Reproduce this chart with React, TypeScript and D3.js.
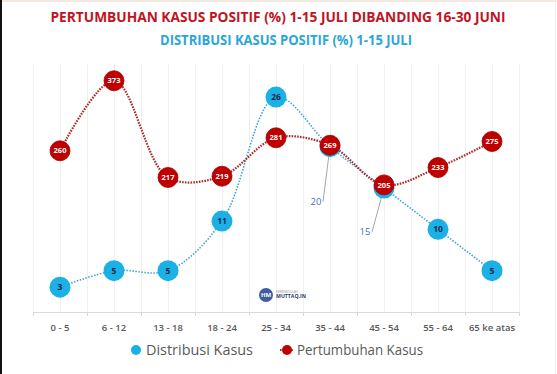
import React, { useEffect, useRef } from "react";
import * as d3 from "d3";

// data
const categories = ["0 - 5", "6 - 12", "13 - 18", "18 - 24", "25 - 34", "35 - 44", "45 - 54", "55 - 64", "65 ke atas"];
const distribusi = [3, 5, 5, 11, 26, 20, 15, 10, 5];
const pertumbuhan = [260, 373, 217, 219, 281, 269, 205, 233, 275];
// blue labels drawn outside with a leader line (index -> offset)
const outsideLabels: { [i: number]: [number, number] } = { 5: [-14, 58], 6: [-19, 47] };

const titleLine1 = "PERTUMBUHAN KASUS POSITIF (%) 1-15 JULI DIBANDING 16-30 JUNI";
const titleLine2 = "DISTRIBUSI KASUS POSITIF (%) 1-15 JULI";

const W = 557;
const H = 374;
const RED = "#c00000";
const BLUE = "#1bb0e6";
const FONT = "'Open Sans', 'Noto Sans', sans-serif";

function drawChart(el: SVGSVGElement) {
  const svg = d3.select(el);
  svg.selectAll("*").remove();

  const left = 33, right = 519, top = 64, bottom = 312;

  const x = d3.scaleBand<string>().domain(categories).range([left, right]);
  const bw = x.bandwidth();
  const cx = (i: number) => (x(categories[i]) as number) + bw / 2;
  const yBlue = d3.scaleLinear().domain([0, 30]).range([bottom, top]);
  const yRed = d3.scaleLinear().domain([0, 400]).range([bottom, top]);

  // frame
  svg.append("rect").attr("width", W).attr("height", H).attr("fill", "#fff");
  svg.append("rect").attr("x", 0).attr("y", 0).attr("width", W).attr("height", 2).attr("fill", "#f4e8e2");
  svg.append("rect").attr("x", 0).attr("y", 0).attr("width", 2).attr("height", H).attr("fill", "#111");
  svg.append("line").attr("x1", 555.5).attr("x2", 555.5).attr("y1", 0).attr("y2", H).attr("stroke", "#eeeeee");

  // titles
  svg.append("text").attr("x", 278).attr("y", 22).attr("text-anchor", "middle")
    .attr("font-family", FONT).attr("font-weight", 700).attr("font-size", 13.5)
    .attr("fill", "#c0141f").attr("textLength", 455).attr("lengthAdjust", "spacingAndGlyphs")
    .text(titleLine1);
  svg.append("text").attr("x", 286).attr("y", 45).attr("text-anchor", "middle")
    .attr("font-family", FONT).attr("font-weight", 700).attr("font-size", 13.5)
    .attr("fill", "#2aa6d8").attr("textLength", 252).attr("lengthAdjust", "spacingAndGlyphs")
    .text(titleLine2);

  // gridlines at band edges and centres
  const gridX: number[] = [];
  categories.forEach((c, i) => { gridX.push(x(c) as number); gridX.push(cx(i)); });
  gridX.push(right);
  svg.append("g").selectAll("line").data(gridX).join("line")
    .attr("x1", (d) => d + 0.5).attr("x2", (d) => d + 0.5)
    .attr("y1", top).attr("y2", bottom)
    .attr("stroke", "#efefef");

  // x axis
  svg.append("line").attr("x1", left).attr("x2", right).attr("y1", bottom + 0.5).attr("y2", bottom + 0.5)
    .attr("stroke", "#d9d9d9");
  svg.append("g").selectAll("line").data(categories.map((c) => x(c) as number).concat([right])).join("line")
    .attr("x1", (d) => d + 0.5).attr("x2", (d) => d + 0.5)
    .attr("y1", bottom).attr("y2", bottom + 4).attr("stroke", "#d9d9d9");
  svg.append("g").selectAll("text").data(categories).join("text")
    .attr("x", (d, i) => cx(i)).attr("y", 331).attr("text-anchor", "middle")
    .attr("font-family", FONT).attr("font-weight", 600).attr("font-size", 9.5)
    .attr("fill", "#595959").text((d) => d);

  // logo
  const logo = svg.append("g").attr("transform", `translate(${cx(4) - 10},295)`);
  logo.append("circle").attr("r", 7).attr("fill", "#3e5f9e");
  logo.append("text").attr("y", 2.2).attr("text-anchor", "middle").attr("font-family", FONT)
    .attr("font-weight", 700).attr("font-size", 6).attr("fill", "#fff").text("HM");
  logo.append("text").attr("x", 10).attr("y", -2.5).attr("font-family", FONT)
    .attr("font-size", 2.8).attr("fill", "#8a8a9a").text("HEBRIYATULLAH");
  logo.append("text").attr("x", 10).attr("y", 3).attr("font-family", FONT)
    .attr("font-weight", 700).attr("font-size", 5.2).attr("fill", "#2b3d6e").text("MUTTAQ.IN");

  const curve = d3.curveCatmullRom.alpha(0.5);

  // lines
  svg.append("path")
    .attr("d", d3.line<number>().x((d, i) => cx(i)).y((d) => yBlue(d)).curve(curve)(distribusi))
    .attr("fill", "none").attr("stroke", "#3fa6d6").attr("stroke-width", 1.6).attr("stroke-dasharray", "1.5 1.5");
  svg.append("path")
    .attr("d", d3.line<number>().x((d, i) => cx(i)).y((d) => yRed(d)).curve(curve)(pertumbuhan))
    .attr("fill", "none").attr("stroke", "#b02a2a").attr("stroke-width", 2.2).attr("stroke-dasharray", "1.6 1.2");

  // leader lines for outside labels
  Object.keys(outsideLabels).forEach((k) => {
    const i = +k;
    const [dx, dy] = outsideLabels[i];
    const px = cx(i), py = yBlue(distribusi[i]);
    svg.append("line").attr("x1", px).attr("y1", py).attr("x2", px + dx + 7).attr("y2", py + dy - 3)
      .attr("stroke", "#a6a6a6").attr("stroke-width", 1);
    svg.append("text").attr("x", px + dx).attr("y", py + dy).attr("text-anchor", "middle")
      .attr("font-family", FONT).attr("font-size", 9.5).attr("fill", "#4a6fbf").text(distribusi[i]);
  });

  // blue markers
  const bm = svg.append("g").selectAll("g").data(distribusi).join("g")
    .attr("transform", (d, i) => `translate(${cx(i)},${yBlue(d)})`);
  bm.append("circle").attr("r", 10.5).attr("fill", BLUE);
  bm.filter((d, i) => !(i in outsideLabels)).append("text")
    .attr("y", 3).attr("text-anchor", "middle").attr("font-family", FONT).attr("font-weight", 700)
    .attr("font-size", 8.5).attr("fill", "#1d2b4a").text((d) => d);

  // red markers
  const rm = svg.append("g").selectAll("g").data(pertumbuhan).join("g")
    .attr("transform", (d, i) => `translate(${cx(i)},${yRed(d)})`);
  rm.append("circle").attr("r", 10).attr("fill", RED).attr("stroke", "#a00000").attr("stroke-width", 0.8);
  rm.append("text")
    .attr("y", 2.6).attr("text-anchor", "middle").attr("font-family", FONT).attr("font-weight", 700)
    .attr("font-size", 7.5).attr("fill", "#fff").text((d) => d);

  // legend
  const lg = svg.append("g").attr("font-family", FONT).attr("font-size", 14).attr("fill", "#595959");
  lg.append("circle").attr("cx", 136).attr("cy", 350).attr("r", 5).attr("fill", BLUE);
  lg.append("text").attr("x", 146).attr("y", 355).attr("textLength", 107).attr("lengthAdjust", "spacingAndGlyphs")
    .text("Distribusi Kasus");
  lg.append("line").attr("x1", 280).attr("x2", 294).attr("y1", 350).attr("y2", 350)
    .attr("stroke", "#b02a2a").attr("stroke-width", 2).attr("stroke-dasharray", "1.6 1.2");
  lg.append("circle").attr("cx", 287).attr("cy", 350).attr("r", 5).attr("fill", RED);
  lg.append("text").attr("x", 297).attr("y", 355).attr("textLength", 126).attr("lengthAdjust", "spacingAndGlyphs")
    .text("Pertumbuhan Kasus");
}

export default function App() {
  const ref = useRef<SVGSVGElement>(null);
  useEffect(() => {
    if (ref.current) drawChart(ref.current);
  }, []);
  return (
    <div style={{ position: "fixed", left: 0, top: 0 }}>
      <svg ref={ref} width={W} height={H} style={{ display: "block" }} />
    </div>
  );
}
